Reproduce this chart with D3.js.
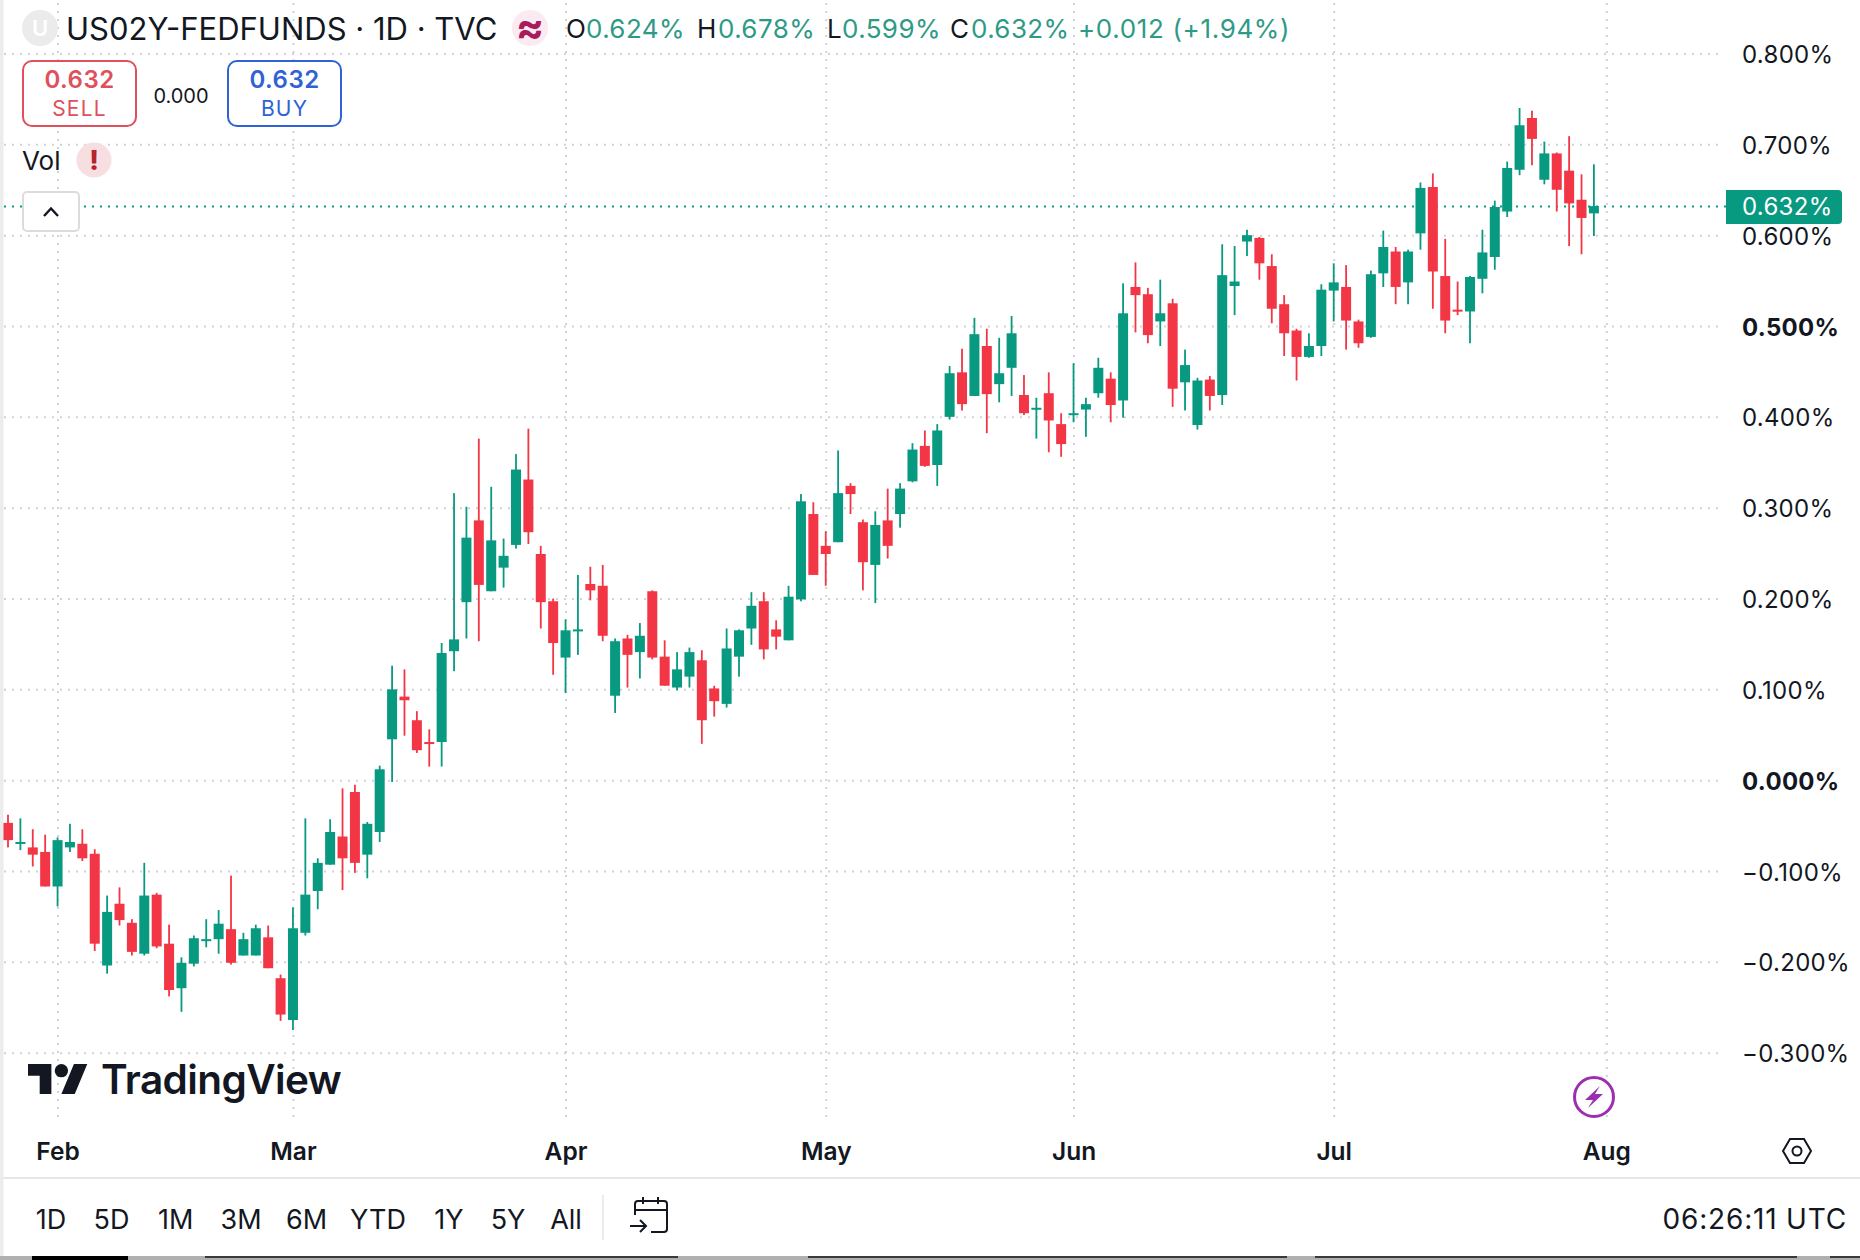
<!DOCTYPE html>
<html>
<head>
<meta charset="utf-8">
<title>US02Y-FEDFUNDS</title>
<script src="https://cdn.jsdelivr.net/npm/d3@7"></script>
<style>
  html, body { margin: 0; padding: 0; background: #fff; }
  svg { display: block; }
  text { font-family: Inter, "Noto Sans", sans-serif; fill: #131722; }
  .grid line { stroke: #cfd2d8; stroke-width: 2; stroke-dasharray: 2 6; }
  .grid .domain { display: none; }
</style>
</head>
<body>
<svg id="chart" width="1860" height="1260"></svg>
<script>
'use strict';

var opens = [-0.047,-0.070,-0.074,-0.079,-0.117,-0.074,-0.070,-0.081,-0.204,-0.136,
  -0.157,-0.191,-0.126,-0.180,-0.229,-0.202,-0.177,-0.175,-0.164,-0.193,
  -0.193,-0.173,-0.218,-0.264,-0.168,-0.122,-0.093,-0.062,-0.013,-0.082,
  -0.057,0.045,0.092,0.066,0.042,0.042,0.142,0.196,0.286,0.208,
  0.234,0.259,0.331,0.249,0.197,0.135,0.164,0.216,0.214,0.093,
  0.156,0.141,0.208,0.136,0.102,0.114,0.132,0.101,0.084,0.136,
  0.167,0.197,0.166,0.154,0.199,0.293,0.258,0.262,0.324,0.284,
  0.237,0.286,0.293,0.329,0.368,0.347,0.400,0.449,0.423,0.478,
  0.436,0.454,0.424,0.408,0.426,0.392,0.403,0.408,0.426,0.442,
  0.418,0.543,0.535,0.505,0.525,0.438,0.391,0.441,0.424,0.544,
  0.593,0.597,0.566,0.524,0.495,0.466,0.478,0.539,0.543,0.505,
  0.488,0.558,0.582,0.548,0.602,0.653,0.555,0.518,0.516,0.552,
  0.576,0.626,0.672,0.729,0.661,0.690,0.671,0.639,0.624];

var highs = [-0.038,-0.042,-0.054,-0.060,-0.063,-0.048,-0.054,-0.076,-0.127,-0.118,
  -0.153,-0.091,-0.124,-0.159,-0.195,-0.171,-0.153,-0.143,-0.105,-0.168,
  -0.159,-0.160,-0.214,-0.140,-0.042,-0.086,-0.043,-0.009,-0.005,-0.046,
  0.016,0.126,0.122,0.076,0.056,0.151,0.316,0.301,0.376,0.323,
  0.266,0.359,0.387,0.258,0.200,0.177,0.226,0.235,0.237,0.156,
  0.160,0.173,0.209,0.154,0.141,0.146,0.143,0.104,0.167,0.166,
  0.207,0.207,0.176,0.214,0.315,0.306,0.274,0.363,0.327,0.287,
  0.296,0.321,0.327,0.371,0.385,0.392,0.456,0.475,0.509,0.497,
  0.487,0.511,0.446,0.421,0.449,0.404,0.459,0.421,0.465,0.449,
  0.547,0.570,0.542,0.551,0.530,0.474,0.443,0.445,0.590,0.588,
  0.606,0.598,0.579,0.534,0.497,0.492,0.546,0.569,0.567,0.507,
  0.561,0.605,0.587,0.584,0.658,0.668,0.596,0.549,0.555,0.606,
  0.638,0.681,0.740,0.737,0.703,0.691,0.709,0.667,0.678];

var lows = [-0.074,-0.077,-0.095,-0.117,-0.139,-0.079,-0.089,-0.188,-0.213,-0.160,
  -0.193,-0.193,-0.185,-0.238,-0.255,-0.205,-0.184,-0.191,-0.203,-0.193,
  -0.193,-0.207,-0.265,-0.275,-0.171,-0.142,-0.093,-0.121,-0.102,-0.108,
  -0.068,-0.002,0.049,0.030,0.015,0.015,0.120,0.156,0.153,0.208,
  0.212,0.255,0.260,0.167,0.116,0.096,0.138,0.198,0.153,0.074,
  0.102,0.112,0.133,0.104,0.099,0.102,0.040,0.070,0.080,0.114,
  0.149,0.133,0.144,0.154,0.197,0.226,0.214,0.262,0.293,0.209,
  0.195,0.244,0.278,0.328,0.345,0.324,0.397,0.407,0.423,0.382,
  0.416,0.423,0.402,0.376,0.361,0.356,0.394,0.378,0.421,0.394,
  0.399,0.493,0.481,0.478,0.411,0.407,0.386,0.407,0.413,0.512,
  0.577,0.551,0.503,0.467,0.440,0.465,0.467,0.505,0.474,0.476,
  0.487,0.543,0.524,0.524,0.584,0.519,0.492,0.512,0.481,0.536,
  0.562,0.620,0.666,0.677,0.656,0.626,0.588,0.579,0.599];

var closes = [-0.066,-0.068,-0.082,-0.117,-0.066,-0.068,-0.086,-0.180,-0.145,-0.154,
  -0.189,-0.127,-0.183,-0.231,-0.201,-0.174,-0.175,-0.158,-0.201,-0.175,
  -0.163,-0.207,-0.258,-0.163,-0.126,-0.091,-0.057,-0.086,-0.091,-0.048,
  0.012,0.100,0.088,0.033,0.040,0.140,0.155,0.267,0.215,0.264,
  0.247,0.342,0.273,0.196,0.151,0.165,0.166,0.209,0.159,0.153,
  0.138,0.159,0.135,0.104,0.122,0.141,0.066,0.087,0.145,0.165,
  0.192,0.144,0.158,0.202,0.307,0.226,0.249,0.316,0.315,0.240,
  0.281,0.258,0.321,0.364,0.346,0.385,0.448,0.414,0.491,0.425,
  0.448,0.492,0.404,0.410,0.396,0.370,0.404,0.414,0.454,0.413,
  0.514,0.534,0.490,0.514,0.431,0.457,0.440,0.423,0.556,0.549,
  0.600,0.569,0.519,0.492,0.466,0.478,0.540,0.548,0.506,0.481,
  0.557,0.587,0.543,0.582,0.652,0.560,0.506,0.517,0.554,0.581,
  0.631,0.674,0.721,0.706,0.690,0.650,0.635,0.619,0.632];

var yTicks = [0.8, 0.7, 0.6, 0.5, 0.4, 0.3, 0.2, 0.1, 0, -0.1, -0.2, -0.3];
var boldTicks = [0.5, 0];
var monthLabels = ['Feb', 'Mar', 'Apr', 'May', 'Jun', 'Jul', 'Aug'];
var monthBars = [4, 23, 45, 66, 86, 107, 129];
var rangeLabels = ['1D', '5D', '1M', '3M', '6M', 'YTD', '1Y', '5Y', 'All'];
var lastPrice = 0.632;

var red = '#f23645', green = '#089981';

var svg = d3.select('#chart');

var x = d3.scaleLinear().domain([0, 129]).range([8, 1606.3]);
var y = d3.scaleLinear().domain([0.8, -0.3]).range([53.5, 1052.7]);

var plotLeft = 4, plotRight = 1718, plotBottom = 1117;

// grid comes from the axes themselves
var xAxis = d3.axisBottom(x)
  .tickValues(monthBars)
  .tickFormat(function(d) { return monthLabels[monthBars.indexOf(d)]; })
  .tickSize(-plotBottom)
  .tickPadding(26);

var xG = svg.append('g')
  .attr('class', 'grid')
  .attr('transform', 'translate(0,' + plotBottom + ')')
  .call(xAxis);
xG.selectAll('text')
  .style('font-size', '24.5px')
  .style('font-weight', 600)
  .style('fill', '#131722');

var yAxis = d3.axisRight(y)
  .tickValues(yTicks)
  .tickFormat(function(d) { return d3.format('.3f')(d) + '%'; })
  .tickSize(plotRight - plotLeft)
  .tickPadding(24);

var yG = svg.append('g')
  .attr('class', 'grid')
  .attr('transform', 'translate(' + plotLeft + ',0)')
  .call(yAxis);
yG.selectAll('text')
  .attr('dy', '0.38em')
  .style('font-size', '24px')
  .style('letter-spacing', '0.3px')
  .style('font-weight', function(d) { return boldTicks.indexOf(d) >= 0 ? 700 : 400; })
  .style('fill', '#131722');

// last price line
svg.append('line')
  .attr('x1', plotLeft).attr('x2', plotRight + 8)
  .attr('y1', y(lastPrice) + 0.5).attr('y2', y(lastPrice) + 0.5)
  .attr('stroke', green).attr('stroke-width', 2).attr('stroke-dasharray', '2 6');

// candles
var bars = d3.range(opens.length);
var candle = svg.append('g').selectAll('g')
  .data(bars)
  .enter().append('g')
  .attr('fill', function(i) { return closes[i] >= opens[i] ? green : red; });

candle.append('rect')
  .attr('x', function(i) { return x(i) - 0.9; })
  .attr('width', 1.8)
  .attr('y', function(i) { return y(highs[i]); })
  .attr('height', function(i) { return y(lows[i]) - y(highs[i]); });

candle.append('rect')
  .attr('x', function(i) { return x(i) - 5; })
  .attr('width', 10)
  .attr('y', function(i) { return y(Math.max(opens[i], closes[i])); })
  .attr('height', function(i) { return Math.max(2, Math.abs(y(opens[i]) - y(closes[i]))); });

// price label on the scale
svg.append('path')
  .attr('d', 'M1726,190H1838a4,4 0 0 1 4,4V220a4,4 0 0 1 -4,4H1726Z')
  .attr('fill', green);
svg.append('text')
  .attr('x', 1742).attr('y', y(lastPrice)).attr('dy', '.38em')
  .style('font-size', '24px').style('letter-spacing', '0.3px').style('fill', '#fff')
  .text(d3.format('.3f')(lastPrice) + '%');

// header
function label(px, py, str, size, color, weight, anchor) {
  return svg.append('text')
    .attr('x', px).attr('y', py)
    .attr('text-anchor', anchor || 'start')
    .style('font-size', size + 'px')
    .style('fill', color || '#131722')
    .style('font-weight', weight || 400)
    .text(str);
}

svg.append('circle').attr('cx', 40).attr('cy', 28).attr('r', 18).attr('fill', '#ebebeb');
label(40, 36, 'U', 22, '#fff', 600, 'middle');
label(66, 40, 'US02Y-FEDFUNDS · 1D · TVC', 31);

svg.append('circle').attr('cx', 530).attr('cy', 28).attr('r', 18).attr('fill', '#fbeaf1');
label(530, 42, '≈', 42, '#a81c5c', 700, 'middle');

var legendGreen = '#2e9a85';
label(566, 38, 'O', 26);
label(586, 38, '0.624%', 26, legendGreen).style('letter-spacing', '0.4px');
label(697, 38, 'H', 26);
label(718, 38, '0.678%', 26, legendGreen).style('letter-spacing', '0.4px');
label(827, 38, 'L', 26);
label(842, 38, '0.599%', 26, legendGreen).style('letter-spacing', '0.4px');
label(950, 38, 'C', 26);
label(971, 38, '0.632%', 26, legendGreen).style('letter-spacing', '0.4px');
label(1078, 38, '+0.012 (+1.94%)', 26, legendGreen).style('letter-spacing', '0.65px');

// sell / buy boxes
svg.append('rect').attr('x', 23).attr('y', 61).attr('width', 113).attr('height', 65).attr('rx', 9)
  .attr('fill', '#fff').attr('stroke', '#df4f5c').attr('stroke-width', 2);
label(79.5, 88, '0.632', 24, '#df4f5c', 600, 'middle').style('letter-spacing', '0.5px');
label(79.5, 116, 'SELL', 21, '#df4f5c', 400, 'middle').style('letter-spacing', '1.2px');
label(181, 103, '0.000', 20, '#131722', 400, 'middle');
svg.append('rect').attr('x', 228).attr('y', 61).attr('width', 113).attr('height', 65).attr('rx', 9)
  .attr('fill', '#fff').attr('stroke', '#2f62d6').attr('stroke-width', 2);
label(284.5, 88, '0.632', 24, '#2f62d6', 600, 'middle').style('letter-spacing', '0.5px');
label(284.5, 116, 'BUY', 21, '#2f62d6', 400, 'middle').style('letter-spacing', '1.2px');

// Vol row
label(22, 170, 'Vol', 26);
svg.append('circle').attr('cx', 94).attr('cy', 160).attr('r', 17.5).attr('fill', '#f7dfe1');
label(94, 170, '!', 27, '#b8212e', 800, 'middle');

// collapse button
svg.append('rect').attr('x', 23).attr('y', 192).attr('width', 56).attr('height', 39).attr('rx', 4)
  .attr('fill', '#fff').attr('stroke', '#dcdcdc').attr('stroke-width', 2);
svg.append('path').attr('d', 'M44,216L51,208.5L58,216')
  .attr('fill', 'none').attr('stroke', '#131722').attr('stroke-width', 2.4);

// logo
var logo = svg.append('g').attr('transform', 'translate(28,1059) scale(1.67,1.67)');
logo.append('path').attr('d', 'M14 21H7V10H0V3h14v18zM28 21h-8l7.5-18h8L28 21z').attr('fill', '#131722');
logo.append('circle').attr('cx', 20).attr('cy', 7).attr('r', 4).attr('fill', '#131722');
label(101, 1094, 'TradingView', 40.5, '#131722', 600).style('letter-spacing', '-0.6px');

// zap icon
svg.append('circle').attr('cx', 1594).attr('cy', 1097).attr('r', 19.5)
  .attr('fill', '#fff').attr('stroke', '#9c2fb0').attr('stroke-width', 3);
svg.append('path').attr('d', 'M1600,1086L1585,1100H1593L1588,1108L1603,1094H1595Z').attr('fill', '#9c2fb0');

// settings hexagon
svg.append('path').attr('d', 'M1783,1151L1790,1139H1804L1811,1151L1804,1163H1790Z')
  .attr('fill', 'none').attr('stroke', '#131722').attr('stroke-width', 2);
svg.append('circle').attr('cx', 1797).attr('cy', 1151).attr('r', 4.5)
  .attr('fill', 'none').attr('stroke', '#131722').attr('stroke-width', 2);

// bottom toolbar
svg.append('line').attr('x1', 3).attr('x2', 1860).attr('y1', 1178).attr('y2', 1178)
  .attr('stroke', '#e6e6e6').attr('stroke-width', 2);

var rangeCenters = [51, 111.5, 175.6, 241, 306.6, 378, 449, 508, 566];
rangeLabels.forEach(function(d, i) {
  label(rangeCenters[i], 1229, d, 27, '#131722', 400, 'middle');
});
svg.append('line').attr('x1', 603).attr('x2', 603).attr('y1', 1195).attr('y2', 1240)
  .attr('stroke', '#e6e6e6').attr('stroke-width', 1.5);
svg.append('path')
  .attr('d', 'M635,1215V1204a3,3 0 0 1 3,-3H664a3,3 0 0 1 3,3V1229a3,3 0 0 1 -3,3H651M635,1210H667M643,1197V1204M658,1197V1204M630,1226H646M640,1220L646,1226L640,1232')
  .attr('fill', 'none').attr('stroke', '#131722').attr('stroke-width', 2);
label(1847, 1229, '06:26:11 UTC', 28, '#131722', 400, 'end').style('letter-spacing', '0.8px');

// screen edges
svg.append('rect').attr('x', 0).attr('y', 0).attr('width', 3.5).attr('height', 1256).attr('fill', '#ececec');
svg.append('rect').attr('x', 0).attr('y', 1256).attr('width', 1860).attr('height', 4).attr('fill', '#b0b0b0');
svg.append('rect').attr('x', 32).attr('y', 1256).attr('width', 96).attr('height', 4).attr('fill', '#000');
[[205, 678], [808, 1287], [1315, 1797], [1830, 1860]].forEach(function(s) {
  svg.append('rect').attr('x', s[0]).attr('y', 1256).attr('width', s[1] - s[0]).attr('height', 2).attr('fill', '#3a3a3a');
});
</script>
</body>
</html>
